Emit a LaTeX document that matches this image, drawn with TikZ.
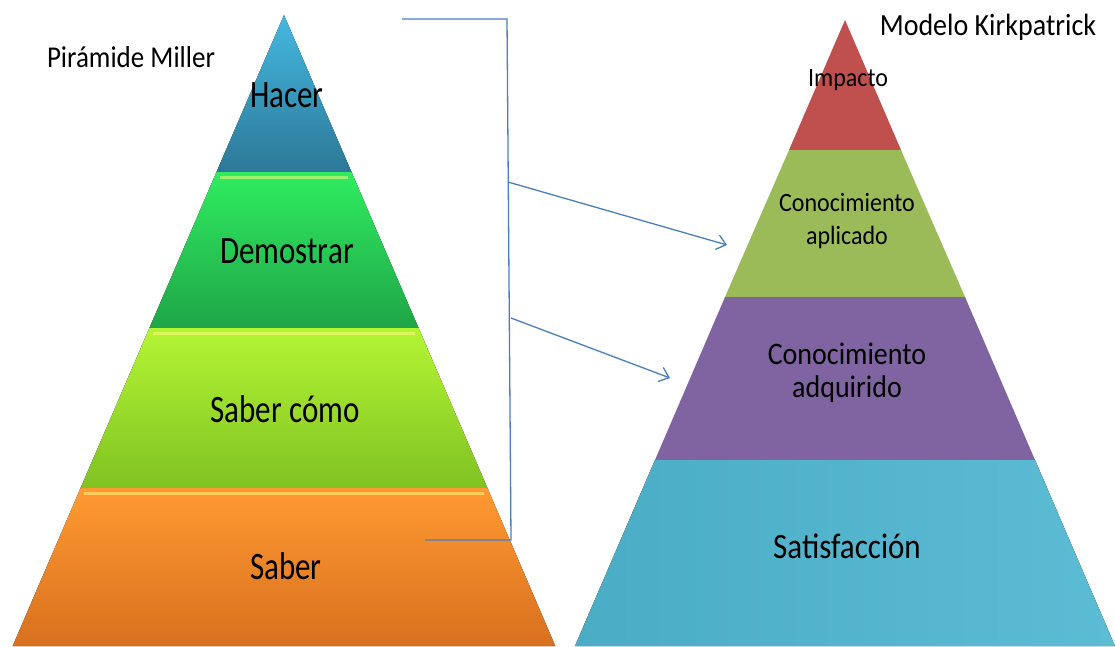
\documentclass[tikz,border=0pt]{standalone}
\usepackage{fontspec}
\usepackage{graphicx}
\setmainfont{Carlito}
\usetikzlibrary{positioning}
\usetikzlibrary{arrows.meta}

\definecolor{hacerA}{HTML}{45B8E0}
\definecolor{hacerB}{HTML}{2C7898}
\definecolor{demoA}{HTML}{30EC60}
\definecolor{demoB}{HTML}{1FA548}
\definecolor{comoA}{HTML}{B4F535}
\definecolor{comoB}{HTML}{80C222}
\definecolor{saberA}{HTML}{FF9A32}
\definecolor{saberB}{HTML}{D8701E}
\definecolor{impacto}{HTML}{C0504D}
\definecolor{aplicado}{HTML}{9BBB59}
\definecolor{adquirido}{HTML}{8064A2}
\definecolor{satisA}{HTML}{4BACC6}
\definecolor{satisB}{HTML}{5CBCD4}
\definecolor{linea}{HTML}{4A7EC2}

\newcommand{\estirar}[2][1.25]{\scalebox{1}[#1]{#2}}

\begin{document}
\begin{tikzpicture}[
    x=1pt, y=-1pt,
    font=\rmfamily
]
\tikzset{
    lbl/.style = {align=center, text=black, inner sep=0pt, font=\fontsize{31}{34}\selectfont},
    lblm/.style = {lbl, font=\fontsize{28}{33}\selectfont},
    lbls/.style = {lbl, font=\fontsize{24}{33}\selectfont},
    titulo/.style = {lbl, font=\fontsize{27}{30}\selectfont},
    brillo/.style = {line width=3pt, color=yellow!50!white, opacity=0.55},
    edgen/.style = {-, line width=1.3pt, color=linea},
    edger/.style = {-{Straight Barb[length=9pt,width=15pt]}, line width=1.3pt, color=linea}
}
\useasboundingbox[fill=white] (0,0) rectangle (1115,646);

% Piramide Miller
\fill[top color=hacerA, bottom color=hacerB] (284,15) -- (351.5,172) -- (216.5,172) -- cycle;
\fill[top color=demoA, bottom color=demoB] (216.5,172) -- (351.5,172) -- (418.6,328) -- (149.4,328) -- cycle;
\fill[top color=comoA, bottom color=comoB] (149.4,328) -- (418.6,328) -- (487.4,488) -- (80.6,488) -- cycle;
\fill[top color=saberA, bottom color=saberB] (80.6,488) -- (487.4,488) -- (555.3,646) -- (12.7,646) -- cycle;
\draw[brillo] (220,177) -- (348,177);
\draw[brillo] (153,333) -- (415,333);
\draw[brillo] (84,493) -- (484,493);

% Modelo Kirkpatrick
\fill[impacto] (845,20) -- (901,150) -- (789,150) -- cycle;
\fill[aplicado] (789,150) -- (901,150) -- (965,297) -- (725,297) -- cycle;
\fill[adquirido] (725,297) -- (965,297) -- (1035,460) -- (655,460) -- cycle;
\fill[left color=satisA, right color=satisB] (655,460) -- (1035,460) -- (1115,646) -- (575,646) -- cycle;

% textos
\node[titulo] (miller) at (131,57) {\estirar[1.12]{Pirámide Miller}};
\node[titulo, font=\fontsize{28}{30}\selectfont] (kirk) at (988,27) {\estirar[1.1]{Modelo Kirkpatrick}};
\node[lbl] (hacer) at (287,95) {\estirar{Hacer}};
\node[lbl] (demostrar) at (287,251) {\estirar{Demostrar}};
\node[lbl] (como) at (285,409) {\estirar{Saber cómo}};
\node[lbl] (saber) at (286,566) {\estirar{Saber}};
\node[lbls] (impact) at (848,80) {\estirar[1.1]{Impacto}};
\node[lbls] (aplic) at (847,221) {\estirar[1.1]{Conocimiento}\\\estirar[1.1]{aplicado}};
\node[lblm] (adqui) at (847,373) {\estirar[1.12]{Conocimiento}\\\estirar[1.12]{adquirido}};
\node[lbl] (satis) at (847,546) {\estirar[1.15]{Satisfacción}};

% conectores
\coordinate (bt) at (402,19);
\coordinate (btr) at (507,19);
\coordinate (bbr) at (511,540);
\coordinate (bb) at (425,540);
\coordinate (s1) at (508,182);
\coordinate (e1) at (727,245);
\coordinate (s2) at (511,318);
\coordinate (e2) at (670,378);
\draw[edgen] (bt) -- (btr) -- (bbr) -- (bb);
\draw[edger] (s1) -- (e1);
\draw[edger] (s2) -- (e2);
\end{tikzpicture}
\end{document}
